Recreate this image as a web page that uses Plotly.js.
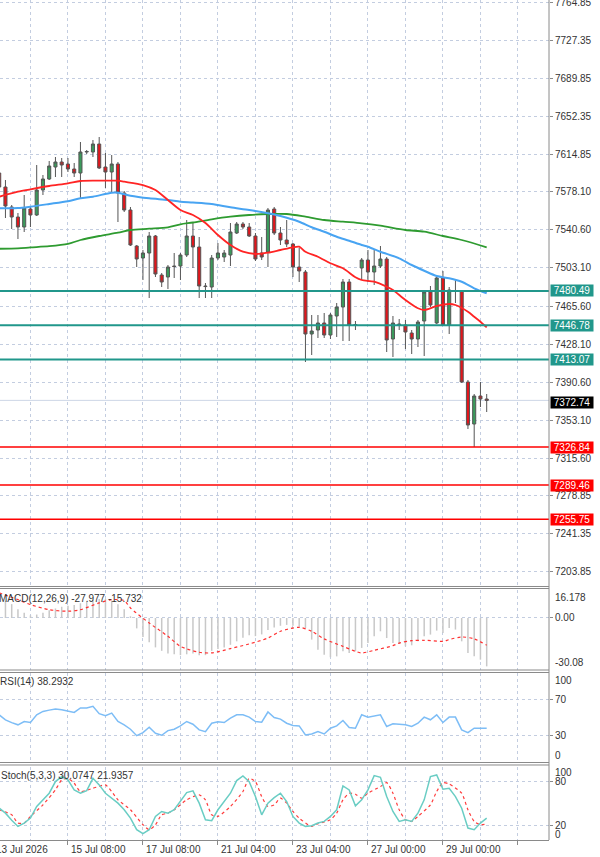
<!DOCTYPE html>
<html>
<head>
<meta charset="utf-8">
<script src="https://cdn.plot.ly/plotly-3.0.1.min.js"></script>
<style>
  html, body { margin: 0; padding: 0; background: #ffffff; }
  #chart { width: 600px; height: 857px; }
</style>
</head>
<body>
<div id="chart"></div>
<script>
// ---- H4 price bars, oldest first ----
const openP = [
  7596.54, 7582.77, 7563.08, 7553.24, 7543.40, 7561.11, 7555.21, 7579.81, 7590.64, 7602.45,
  7607.37, 7605.40, 7600.48, 7596.54, 7617.21, 7617.21, 7625.09, 7602.45, 7597.53, 7605.40,
  7576.86, 7560.13, 7524.69, 7512.88, 7517.80, 7534.54, 7496.15, 7494.18, 7505.01, 7505.01,
  7515.84, 7534.54, 7523.71, 7485.32, 7484.34, 7512.88, 7513.87, 7515.84, 7537.49, 7546.35,
  7543.40, 7534.54, 7517.80, 7518.79, 7561.11, 7537.49, 7530.60, 7526.66, 7504.03, 7499.10,
  7438.08, 7442.02, 7448.91, 7437.10, 7455.80, 7464.66, 7489.26, 7446.94, 7503.04, 7510.92,
  7499.10, 7505.01, 7511.90, 7433.16, 7447.92, 7446.94, 7439.06, 7433.16, 7450.88, 7479.42,
  7448.91, 7493.20, 7446.94, 7480.40, 7480.40, 7390.84, 7349.50, 7377.06, 7374.10
];
const highP = [
  7611.31, 7589.66, 7565.05, 7557.17, 7574.89, 7563.08, 7604.40, 7594.58, 7608.36, 7612.29,
  7611.31, 7611.31, 7606.39, 7627.06, 7619.18, 7629.03, 7631.98, 7616.23, 7614.26, 7607.37,
  7578.83, 7563.08, 7525.68, 7520.76, 7538.47, 7535.52, 7498.12, 7505.99, 7517.80, 7517.80,
  7550.29, 7548.32, 7533.55, 7488.28, 7515.84, 7527.65, 7520.76, 7547.33, 7548.32, 7548.32,
  7547.33, 7537.49, 7533.55, 7562.10, 7563.08, 7543.40, 7550.29, 7527.65, 7522.73, 7501.07,
  7456.78, 7456.78, 7458.75, 7458.75, 7468.59, 7492.21, 7492.21, 7450.88, 7512.88, 7520.76,
  7520.76, 7524.69, 7513.87, 7455.80, 7452.84, 7451.86, 7442.02, 7451.86, 7480.40, 7485.32,
  7494.18, 7500.09, 7484.34, 7491.23, 7481.39, 7392.81, 7379.03, 7390.84, 7379.03
];
const lowP = [
  7579.81, 7552.25, 7541.43, 7531.58, 7538.47, 7543.40, 7554.22, 7574.89, 7589.66, 7592.61,
  7592.61, 7597.53, 7592.61, 7571.94, 7615.25, 7612.29, 7600.48, 7581.78, 7577.84, 7548.32,
  7558.16, 7524.69, 7504.03, 7491.23, 7473.51, 7494.18, 7484.34, 7482.37, 7493.20, 7491.23,
  7513.87, 7503.04, 7473.51, 7473.51, 7473.51, 7510.92, 7508.95, 7505.01, 7536.51, 7541.43,
  7533.55, 7509.93, 7510.92, 7504.03, 7535.52, 7525.68, 7523.71, 7494.18, 7489.26, 7410.52,
  7417.41, 7434.14, 7434.14, 7433.16, 7435.13, 7431.19, 7431.19, 7442.02, 7491.23, 7489.26,
  7486.31, 7503.04, 7420.36, 7415.44, 7442.02, 7423.32, 7418.40, 7425.29, 7416.43, 7464.66,
  7447.92, 7445.95, 7438.08, 7468.59, 7389.85, 7344.58, 7326.84, 7366.23, 7361.31
];
const closeP = [
  7582.77, 7564.06, 7553.24, 7543.40, 7562.10, 7555.21, 7579.81, 7590.64, 7603.43, 7607.37,
  7604.42, 7600.48, 7596.54, 7617.21, 7617.70, 7625.09, 7601.47, 7597.53, 7605.40, 7576.86,
  7560.13, 7525.68, 7511.90, 7517.80, 7534.54, 7497.14, 7489.26, 7504.03, 7504.50, 7515.84,
  7534.54, 7523.71, 7485.32, 7484.80, 7512.88, 7517.80, 7517.80, 7538.47, 7546.35, 7543.40,
  7534.54, 7511.90, 7513.87, 7560.13, 7537.49, 7530.60, 7526.66, 7504.03, 7500.09, 7438.08,
  7441.03, 7448.91, 7437.10, 7456.78, 7464.66, 7489.26, 7446.94, 7447.40, 7510.92, 7499.10,
  7505.01, 7511.90, 7432.18, 7448.91, 7447.40, 7440.05, 7433.16, 7449.89, 7479.42, 7466.62,
  7493.20, 7446.94, 7481.39, 7479.90, 7390.84, 7348.51, 7377.06, 7374.10, 7372.74
];

// ---- moving averages (bar index -> value) ----
const maFastBars = [0, 3, 5, 8, 11, 13, 16, 19, 20, 23, 25, 27, 29, 31, 33, 35, 37, 39, 41, 43, 45, 47, 48, 49, 51, 53, 55, 57, 58, 60, 62, 63, 65, 67, 68, 70, 72, 73, 75, 76, 77, 78];
const maFastVals = [7573.20, 7578.14, 7580.50, 7583.75, 7586.40, 7588.67, 7588.97, 7589.00, 7587.98, 7584.73, 7579.81, 7569.97, 7560.13, 7555.21, 7547.33, 7535.52, 7525.68, 7519.08, 7516.82, 7518.10, 7520.76, 7523.41, 7524.01, 7519.08, 7514.16, 7507.67, 7502.75, 7493.89, 7491.23, 7489.56, 7484.64, 7481.39, 7471.54, 7463.38, 7461.70, 7465.64, 7467.61, 7466.62, 7460.03, 7455.11, 7450.19, 7444.67];
const maMidBars = [0, 3, 5, 8, 11, 13, 15, 18, 19, 21, 24, 27, 29, 31, 34, 37, 40, 43, 45, 48, 50, 52, 54, 56, 58, 59, 61, 64, 66, 68, 70, 72, 74, 76, 78];
const maMidVals = [7561.80, 7562.00, 7563.40, 7566.03, 7568.80, 7571.64, 7573.20, 7577.15, 7577.15, 7574.20, 7571.64, 7569.97, 7568.30, 7567.51, 7566.03, 7562.79, 7560.13, 7556.88, 7554.22, 7548.61, 7543.10, 7538.77, 7533.85, 7529.91, 7525.68, 7524.01, 7519.08, 7512.59, 7505.99, 7500.38, 7495.17, 7492.90, 7489.56, 7483.06, 7478.14];
const maSlowBars = [0, 3, 5, 8, 11, 13, 16, 19, 21, 24, 27, 29, 31, 34, 37, 40, 43, 46, 49, 52, 55, 58, 61, 65, 68, 71, 74, 78];
const maSlowVals = [7522.00, 7522.40, 7523.30, 7524.50, 7526.80, 7530.60, 7534.54, 7537.79, 7540.44, 7541.72, 7543.10, 7546.05, 7547.83, 7550.97, 7553.53, 7555.21, 7556.19, 7556.19, 7553.53, 7550.29, 7548.61, 7547.04, 7544.67, 7540.44, 7538.77, 7534.54, 7530.60, 7523.41];

// ---- horizontal levels ----
const resistanceLevels = [7480.49, 7446.78, 7413.07];
const supportLevels = [7326.84, 7289.46, 7255.75];
const lastPrice = 7372.74;

// ---- price scale ----
const priceTicks = [7764.85, 7727.35, 7689.85, 7652.35, 7614.85, 7578.10, 7540.60, 7503.10, 7465.60, 7428.10, 7390.60, 7353.10, 7315.60, 7278.85, 7241.35, 7203.85];

// ---- MACD(12,26,9) ----
const macdHist = [
  9, 10, 8, 5, 3, 1.5, 2, 3, 4.5, 5.5,
  6.5, 7, 7.5, 8.5, 9.5, 10.5, 11, 11, 10, 8,
  5, 1, -6, -11, -14, -17, -19, -20.5, -21, -21.5,
  -21, -20.5, -21.5, -21.5, -19, -18, -17, -15.5, -13.5, -11.5,
  -10, -10.5, -9.5, -7, -5.5, -4.5, -4, -4.5, -5, -5.8,
  -12.5, -18.3, -21.2, -22.7, -22.2, -19.3, -20.2, -19.3, -17.3, -14.5,
  -10.6, -7.7, -11.6, -14.5, -15.0, -16.4, -15.8, -13.5, -10.6, -9.6,
  -7.3, -8.7, -5.8, -6.7, -13.5, -20.2, -22.2, -24.1, -27.977
];
const macdSignalBars = [0, 3, 5, 8, 11, 13, 16, 18, 20, 21, 24, 27, 29, 32, 34, 37, 40, 43, 45, 48, 50, 52, 55, 57, 58, 60, 63, 64, 66, 68, 71, 72, 74, 76, 78];
const macdSignalVals = [14.5, 10.6, 7.7, 4.8, 3.9, 4.8, 8.7, 10.6, 10.0, 5.8, -2.9, -10.6, -16.4, -19.8, -20.2, -17.7, -15.0, -11.6, -7.7, -5.4, -7.7, -12.1, -16.4, -19.3, -20.2, -18.7, -16.0, -14.5, -13.1, -12.9, -13.5, -12.5, -11.0, -12.1, -15.732];
const macdScaleMax = 16.178;
const macdScaleMin = -30.08;

// ---- RSI(14) ----
const rsiVals = [
  53.3, 47.7, 44.5, 42.1, 45.8, 44.7, 53.3, 57.1, 58.5, 59.8,
  59.0, 57.5, 56.0, 60.9, 60.9, 62.8, 54.5, 52.2, 55.2, 45.8,
  42.0, 37.2, 30.0, 33.4, 39.4, 32.6, 30.4, 35.6, 37.2, 40.9,
  45.8, 42.8, 36.4, 34.5, 43.9, 45.4, 44.7, 49.6, 53.3, 53.3,
  50.7, 45.8, 45.1, 56.4, 50.3, 48.5, 43.9, 41.3, 40.9, 30.8,
  31.9, 34.5, 31.9, 38.3, 40.9, 46.9, 39.0, 38.3, 53.3, 50.7,
  52.0, 53.3, 40.2, 43.2, 42.8, 42.1, 40.2, 43.9, 50.7, 47.7,
  53.3, 44.7, 50.7, 50.7, 36.4, 33.4, 38.3, 38.3, 38.2932
];

// ---- Stochastic(5,3,3) ----
const stochMain = [
  43.6, 36.8, 27.0, 18.6, 23.2, 30.0, 45.9, 55.0, 64.1, 80.0,
  86.8, 82.3, 68.6, 64.1, 67.7, 84.5, 75.5, 64.1, 57.0, 50.5,
  41.4, 30.0, 14.1, 8.6, 14.1, 32.3, 39.1, 36.8, 41.4, 52.7,
  65.0, 67.3, 50.5, 27.7, 26.4, 41.4, 52.0, 64.1, 81.4, 87.7,
  80.0, 59.5, 34.5, 50.5, 58.0, 64.1, 52.7, 32.3, 23.2, 18.6,
  19.5, 23.2, 25.5, 32.3, 41.4, 74.1, 68.6, 46.8, 55.0, 68.6,
  88.2, 85.9, 59.5, 39.1, 25.5, 27.7, 25.5, 36.8, 55.0, 86.8,
  89.1, 69.5, 70.9, 59.5, 43.6, 16.4, 14.1, 23.2, 30.0747
];
const stochSignalBars = [0, 2, 3, 4, 5, 7, 9, 10, 11, 12, 13, 15, 17, 18, 19, 21, 23, 24, 25, 26, 27, 28, 30, 32, 33, 34, 35, 37, 39, 40, 41, 42, 43, 44, 45, 46, 47, 48, 50, 51, 53, 54, 55, 56, 57, 58, 59, 61, 62, 63, 64, 65, 66, 67, 69, 70, 71, 72, 74, 75, 76, 77, 78];
const stochSignalVals = [41.4, 34.5, 23.2, 23.2, 32.3, 48.2, 68.6, 82.3, 84.5, 77.7, 66.4, 70.9, 75.5, 66.4, 55.0, 41.4, 20.9, 14.1, 20.9, 34.5, 36.8, 41.4, 55.0, 61.8, 55.0, 34.5, 32.3, 45.9, 66.4, 84.5, 80.0, 59.5, 45.9, 48.2, 57.3, 50.5, 39.1, 30.0, 18.6, 22.3, 27.7, 36.8, 55.0, 64.1, 62.7, 57.3, 64.1, 73.2, 78.6, 64.1, 41.4, 27.7, 25.5, 32.3, 48.2, 66.4, 78.6, 76.8, 64.1, 41.4, 25.5, 20.9, 21.9357];

// ---- time axis labels (bar index of each label) ----
const dateLabelBars = [0, 11, 23, 35, 47, 59, 71];
const dateLabelText = ['13 Jul 2026', '15 Jul 08:00', '17 Jul 08:00', '21 Jul 04:00', '23 Jul 04:00', '27 Jul 00:00', '29 Jul 00:00'];

// ---------------------------------------------------------------
const bars = closeP.map((_, i) => i);
const FONT = 'Liberation Sans, Arial, sans-serif';
const GRID = '#c3cde0';
const FRAME = '#8a8a8a';
const TEAL = '#21978b';
const TEXT = '#333333';
const X_RANGE = [0.128, 87.97];

const domMain = [0.30119, 1];
const domMacd = [0.20238, 0.29762];
const domRsi = [0.09226, 0.19881];
const domStoch = [0, 0.0869];

const traces = [
  {
    type: 'candlestick', x: bars, open: openP, high: highP, low: lowP, close: closeP,
    xaxis: 'x', yaxis: 'y',
    increasing: { line: { color: '#555555', width: 1 }, fillcolor: '#3b9b5c' },
    decreasing: { line: { color: '#555555', width: 1 }, fillcolor: '#e3151b' },
    whiskerwidth: 0, hoverinfo: 'skip'
  },
  { type: 'scatter', mode: 'lines', x: maSlowBars, y: maSlowVals, yaxis: 'y',
    line: { color: '#2e9b30', width: 1.8, shape: 'spline', smoothing: 0.8 }, hoverinfo: 'skip' },
  { type: 'scatter', mode: 'lines', x: maMidBars, y: maMidVals, yaxis: 'y',
    line: { color: '#48a4f2', width: 2, shape: 'spline', smoothing: 0.8 }, hoverinfo: 'skip' },
  { type: 'scatter', mode: 'lines', x: maFastBars, y: maFastVals, yaxis: 'y',
    line: { color: '#ff2424', width: 1.8, shape: 'spline', smoothing: 0.8 }, hoverinfo: 'skip' },

  { type: 'bar', x: bars, y: macdHist, yaxis: 'y2', width: 0.24,
    marker: { color: '#c8c8c8', line: { width: 0 } }, hoverinfo: 'skip' },
  { type: 'scatter', mode: 'lines', x: macdSignalBars, y: macdSignalVals, yaxis: 'y2',
    line: { color: '#ff3030', width: 1.2, dash: 'dot', shape: 'spline', smoothing: 0.8 }, hoverinfo: 'skip' },

  { type: 'scatter', mode: 'lines', x: bars, y: rsiVals, yaxis: 'y3',
    line: { color: '#7dbdf6', width: 1.5 }, hoverinfo: 'skip' },

  { type: 'scatter', mode: 'lines', x: stochSignalBars, y: stochSignalVals, yaxis: 'y4',
    line: { color: '#ff3c3c', width: 1.2, dash: 'dot', shape: 'spline', smoothing: 0.6 }, hoverinfo: 'skip' },
  { type: 'scatter', mode: 'lines', x: bars, y: stochMain, yaxis: 'y4',
    line: { color: '#6acdc4', width: 1.5 }, hoverinfo: 'skip' }
];

function rightAxis(domain, range, extra) {
  return Object.assign({
    domain: domain, range: range, side: 'right', anchor: 'x',
    tickmode: 'array', ticks: 'outside', ticklen: 3, tickcolor: FRAME,
    showgrid: true, gridcolor: GRID, griddash: 'dot', gridwidth: 1,
    zeroline: false, showline: false, fixedrange: true,
    ticklabeloverflow: 'allow',
    tickfont: { family: FONT, size: 10, color: TEXT }
  }, extra);
}

const shapes = [];
const annotations = [];

// level lines with their price tags
resistanceLevels.forEach(v => {
  shapes.push({ type: 'line', xref: 'paper', x0: 0, x1: 1, yref: 'y', y0: v, y1: v,
    line: { color: TEAL, width: 2 }, layer: 'above' });
  annotations.push({ xref: 'paper', x: 1, xanchor: 'left', xshift: 1, yref: 'y', y: v, yanchor: 'middle',
    text: ' ' + v.toFixed(2) + ' ', showarrow: false, bgcolor: TEAL, borderpad: 0,
    font: { family: FONT, size: 10, color: '#ffffff' } });
});
supportLevels.forEach(v => {
  shapes.push({ type: 'line', xref: 'paper', x0: 0, x1: 1, yref: 'y', y0: v, y1: v,
    line: { color: '#ff0000', width: 1.5 }, layer: 'above' });
  annotations.push({ xref: 'paper', x: 1, xanchor: 'left', xshift: 1, yref: 'y', y: v, yanchor: 'middle',
    text: ' ' + v.toFixed(2) + ' ', showarrow: false, bgcolor: '#ff0000', borderpad: 0,
    font: { family: FONT, size: 10, color: '#ffffff' } });
});
shapes.push({ type: 'line', xref: 'paper', x0: 0, x1: 1, yref: 'y', y0: lastPrice, y1: lastPrice,
  line: { color: '#cdd6e6', width: 1 }, layer: 'below' });
annotations.push({ xref: 'paper', x: 1, xanchor: 'left', xshift: 1, yref: 'y', y: lastPrice, yanchor: 'middle', yshift: -2,
  text: ' ' + lastPrice.toFixed(2) + ' ', showarrow: false, bgcolor: '#000000', borderpad: 0,
  font: { family: FONT, size: 10, color: '#ffffff' } });

// panel separators (double rules) and the price-scale edge
[0.30179, 0.29940, 0.20238, 0.19940, 0.09226, 0.08929].forEach(py => {
  shapes.push({ type: 'line', xref: 'paper', x0: 0, x1: 1, yref: 'paper', y0: py, y1: py,
    line: { color: FRAME, width: 1 } });
});
shapes.push({ type: 'line', xref: 'paper', x0: 1, x1: 1, yref: 'paper', y0: 0, y1: 1,
  line: { color: FRAME, width: 1 } });

// indicator captions
const captionFont = { family: FONT, size: 10, color: TEXT };
annotations.push({ xref: 'paper', x: 0, xanchor: 'left', xshift: -3, yref: 'paper', y: domMacd[1], yanchor: 'top', yshift: -1,
  text: 'MACD(12,26,9) ' + macdHist[macdHist.length - 1].toFixed(3) + ' ' + macdSignalVals[macdSignalVals.length - 1].toFixed(3),
  showarrow: false, font: captionFont });
annotations.push({ xref: 'paper', x: 0, xanchor: 'left', xshift: -2, yref: 'paper', y: domRsi[1], yanchor: 'top', yshift: -1,
  text: 'RSI(14) ' + rsiVals[rsiVals.length - 1].toFixed(4), showarrow: false, font: captionFont });
annotations.push({ xref: 'paper', x: 0, xanchor: 'left', xshift: -1, yref: 'paper', y: domStoch[1], yanchor: 'top', yshift: -1,
  text: 'Stoch(5,3,3) ' + stochMain[stochMain.length - 1].toFixed(4) + ' ' + stochSignalVals[stochSignalVals.length - 1].toFixed(4),
  showarrow: false, font: captionFont });

// scale extremes printed inside the indicator windows
function edgeLabel(yref, v, anchor, txt, dy) {
  annotations.push({ xref: 'paper', x: 1, xanchor: 'left', xshift: 4, yref: yref, y: v, yanchor: anchor, yshift: dy,
    text: txt, showarrow: false, font: { family: FONT, size: 10, color: TEXT } });
}
edgeLabel('y2', macdScaleMax, 'top', String(macdScaleMax), 0);
edgeLabel('y2', macdScaleMin, 'bottom', String(macdScaleMin), 0);
edgeLabel('y3', 100, 'top', '100', 0);
edgeLabel('y3', 0, 'bottom', '0', -1);
edgeLabel('y4', 100, 'top', '100', 2);
edgeLabel('y4', 0, 'bottom', '0', -2);

// time labels, left-aligned on their bar; the first one sits on the left edge
dateLabelBars.forEach((b, i) => {
  const first = i === 0;
  annotations.push({
    xref: first ? 'paper' : 'x', x: first ? 0 : b, xanchor: 'left', xshift: first ? -6 : 1,
    yref: 'paper', y: 0, yanchor: 'top', yshift: -2,
    text: dateLabelText[i], showarrow: false, font: { family: FONT, size: 10, color: TEXT }
  });
});

const layout = {
  width: 600, height: 857,
  margin: { l: 0, r: 51, t: 0, b: 17, pad: 0 },
  paper_bgcolor: '#ffffff', plot_bgcolor: '#ffffff',
  showlegend: false, hovermode: false,
  font: { family: FONT, size: 10, color: TEXT },
  boxgap: 0.3,
  xaxis: {
    range: X_RANGE, anchor: 'y4', fixedrange: true,
    tickmode: 'linear', tick0: 11, dtick: 12,
    ticks: 'outside', ticklen: 4, tickcolor: FRAME, showticklabels: false,
    showgrid: true, gridcolor: GRID, griddash: 'dot', gridwidth: 1,
    minor: { tickmode: 'linear', tick0: 5, dtick: 12, showgrid: true, gridcolor: GRID, griddash: 'dot', ticks: '' },
    showline: true, linecolor: FRAME, linewidth: 1, zeroline: false,
    rangeslider: { visible: false }
  },
  yaxis: rightAxis(domMain, [7189.07, 7766.82], { tickvals: priceTicks, tickformat: '.2f' }),
  yaxis2: rightAxis(domMacd, [macdScaleMin, macdScaleMax], { tickvals: [0], ticktext: ['0.00'] }),
  yaxis3: rightAxis(domRsi, [0, 100], { tickvals: [30, 70] }),
  yaxis4: rightAxis(domStoch, [0, 100], { tickvals: [20, 80] }),
  shapes: shapes,
  annotations: annotations
};

Plotly.newPlot('chart', traces, layout, { staticPlot: true, displayModeBar: false });
</script>
</body>
</html>
